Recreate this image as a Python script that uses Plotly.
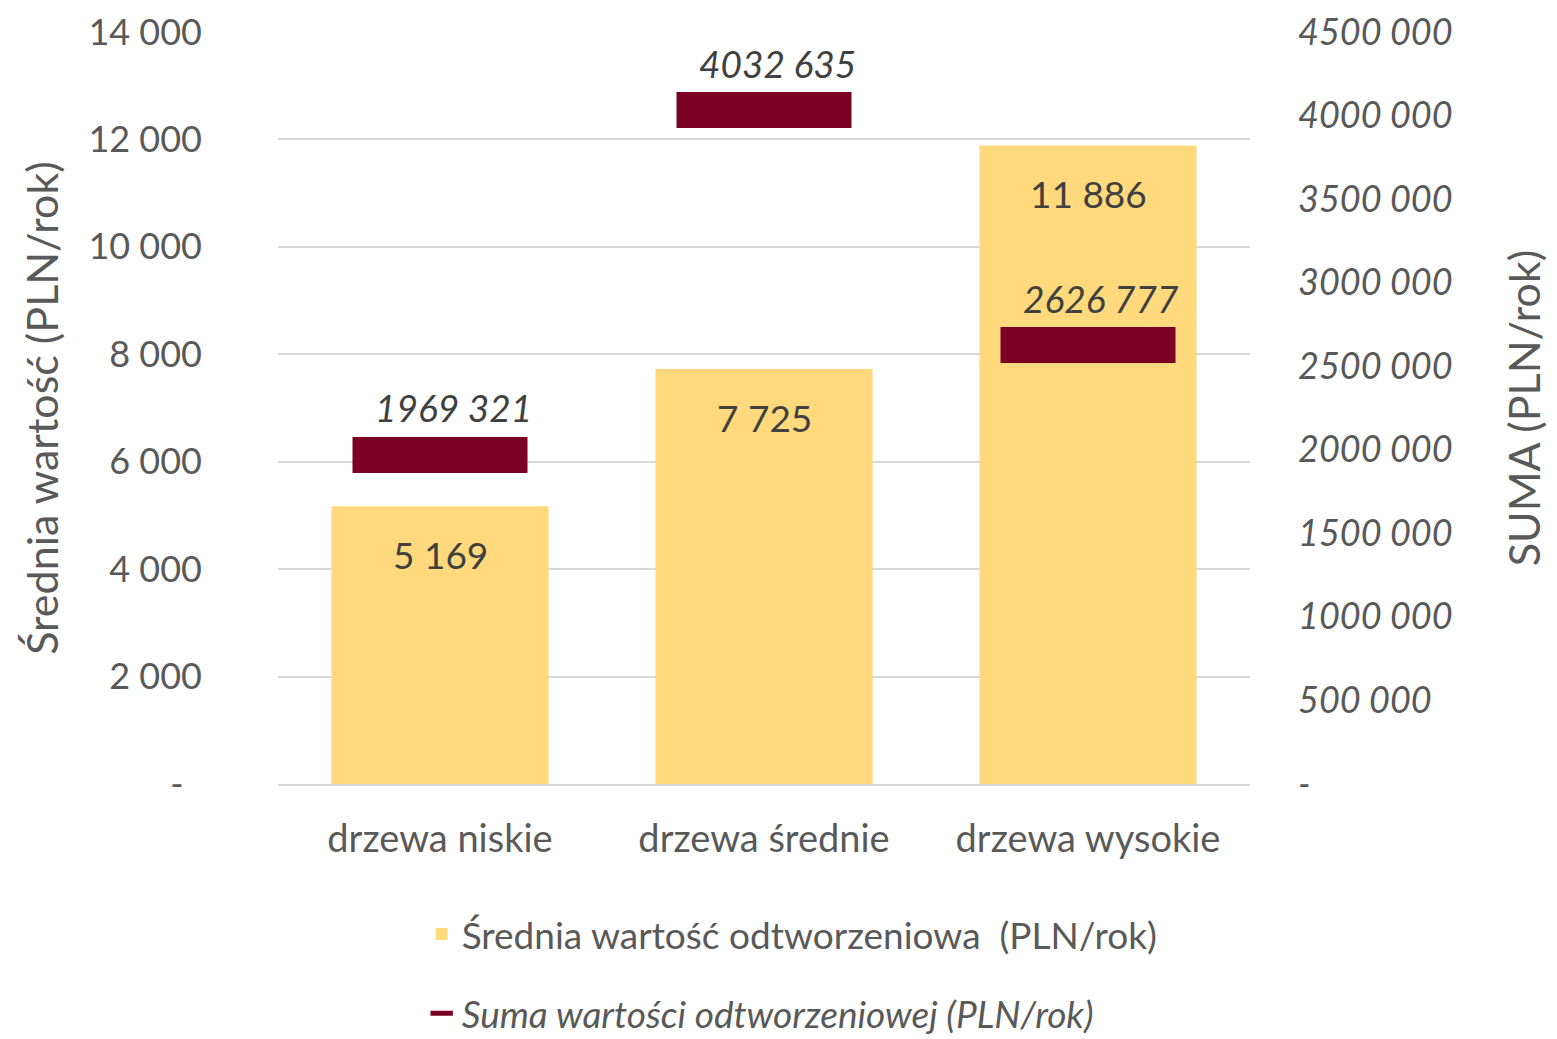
import plotly.graph_objects as go

categories = ["drzewa niskie", "drzewa średnie", "drzewa wysokie"]
srednia = [5169, 7725, 11886]
suma = [1969321, 4032635, 2626777]

left_tickvals = [0, 2000, 4000, 6000, 8000, 10000, 12000, 14000]
left_ticktext = ["-\u00a0\u00a0", "2 000", "4 000", "6 000", "8 000", "10 000", "12 000", "14 000"]
right_tickvals = [0, 500000, 1000000, 1500000, 2000000, 2500000, 3000000, 3500000, 4000000, 4500000]
right_ticktext = ["-", "500 000", "1000 000", "1500 000", "2000 000", "2500 000",
                  "3000 000", "3500 000", "4000 000", "4500 000"]

bar_labels = ["5 169", "7 725", "11 886"]
suma_labels = ["1969 321", "4032 635", "2626 777"]

FONT = "Lato"
GRAY = "#595959"
DARK = "#404040"
YELLOW = "#FFD97C"
RED = "#7C0026"

fig = go.Figure()
fig.add_trace(go.Bar(
    x=categories, y=srednia, name="Średnia wartość odtworzeniowa  (PLN/rok)",
    marker=dict(color=YELLOW, line=dict(width=0)), width=0.67,
    legendgroup="a", yaxis="y",
))
fig.add_trace(go.Scatter(
    x=categories, y=suma, name="<i>Suma wartości odtworzeniowej (PLN/rok)</i>",
    mode="markers", yaxis="y2", legendgroup="b",
    marker=dict(symbol="line-ew", size=125, color=RED, line=dict(color=RED, width=36)),
))

annotations = []
for c, v, t in zip(categories, srednia, bar_labels):
    annotations.append(dict(x=c, y=v, xref="x", yref="y", text=t, showarrow=False,
                            yshift=-48, font=dict(family=FONT, size=37, color=DARK)))
for c, v, t in zip(categories, suma, suma_labels):
    annotations.append(dict(x=c, y=v, xref="x", yref="y2", text="<i>" + t + "</i>", showarrow=False,
                            yshift=47, xshift=13, font=dict(family=FONT, size=37, color=DARK)))

fig.update_layout(
    width=1557, height=1039,
    margin=dict(l=278, r=307, t=32, b=255, autoexpand=False),
    paper_bgcolor="white", plot_bgcolor="white",
    font=dict(family=FONT, size=37, color=GRAY),
    bargap=0.33,
    annotations=annotations,
    xaxis=dict(showline=True, linecolor="#D9D9D9", linewidth=2, ticks="",
               tickfont=dict(size=38, color=GRAY), ticklabelstandoff=20),
    yaxis=dict(range=[0, 14000], tickvals=left_tickvals, ticktext=left_ticktext,
               showgrid=True, gridcolor="#D9D9D9", gridwidth=2, zeroline=False,
               showline=False, ticks="", ticklabelstandoff=75,
               tickfont=dict(size=36, color=GRAY),
               title=dict(text="Średnia wartość (PLN/rok)", standoff=16,
                          font=dict(size=43, color=GRAY))),
    yaxis2=dict(range=[0, 4500000], tickvals=right_tickvals, ticktext=right_ticktext,
                overlaying="y", side="right", showgrid=False, zeroline=False,
                showline=False, ticks="", ticklabelstandoff=47,
                tickfont=dict(size=36, color=GRAY, style="italic"),
                title=dict(text="SUMA (PLN/rok)", standoff=58,
                           font=dict(size=43, color=GRAY))),
    legend=dict(orientation="v", x=0.529, xanchor="center", y=-0.159, yanchor="top",
                traceorder="grouped", tracegroupgap=28,
                font=dict(size=37, color=GRAY), bgcolor="rgba(0,0,0,0)"),
    showlegend=True,
)

fig.write_html("out.html")
